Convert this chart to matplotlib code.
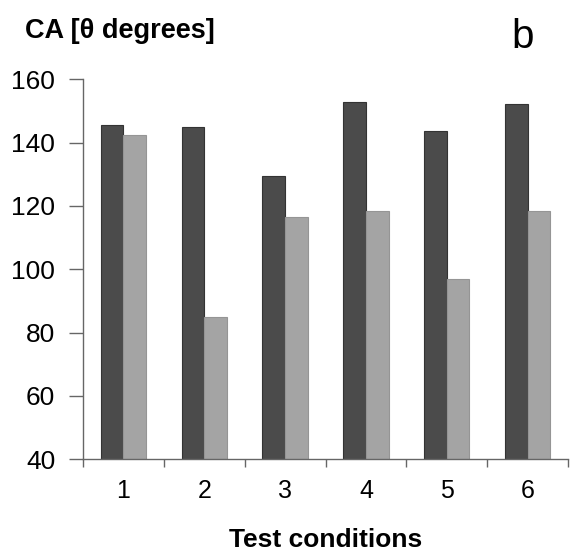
import numpy as np
import matplotlib.pyplot as plt

# contact angle data
conditions = [1, 2, 3, 4, 5, 6]
dark_values = [145.5, 144.8, 129.5, 152.8, 143.8, 152.2]
light_values = [142.5, 84.8, 116.6, 118.4, 96.8, 118.4]
y_ticks = [40, 60, 80, 100, 120, 140, 160]

plt.rcParams["font.family"] = ["Liberation Sans", "DejaVu Sans"]

fig = plt.figure(figsize=(5.7, 5.52), dpi=100)
ax = fig.add_axes([0.1456, 0.168, 0.851, 0.6883])

x = np.array(conditions)
width = 0.28
ax.bar(x - width / 2, dark_values, width, color="#4b4b4b", edgecolor="#333333", linewidth=0.8)
ax.bar(x + width / 2, light_values, width, color="#a4a4a4", edgecolor="#959595", linewidth=0.8)

ax.set_xlim(0.5, 6.5)
ax.set_ylim(40, 160)
ax.set_yticks(y_ticks)
ax.set_xticks(conditions)
ax.set_xticks(np.arange(0.5, 7.0, 1.0), minor=True)
ax.tick_params(axis="x", which="major", length=0, labelsize=18, pad=14)
ax.tick_params(axis="x", which="minor", length=6, width=1, color="#666666")
ax.tick_params(axis="y", length=10, width=1, color="#666666", labelsize=19, pad=10)

for side in ["top", "right"]:
    ax.spines[side].set_visible(False)
for side in ["left", "bottom"]:
    ax.spines[side].set_color("#666666")
    ax.spines[side].set_linewidth(1)

ax.set_xlabel("Test conditions", fontsize=19, fontweight="bold", labelpad=18)
fig.text(0.044, 1 - 31 / 552, "CA [θ degrees]", fontsize=19.5, fontweight="bold", va="center", ha="left")
fig.text(0.897, 1 - 37 / 552, "b", fontsize=29, va="center", ha="left")

fig.savefig("out.png", dpi=100)
